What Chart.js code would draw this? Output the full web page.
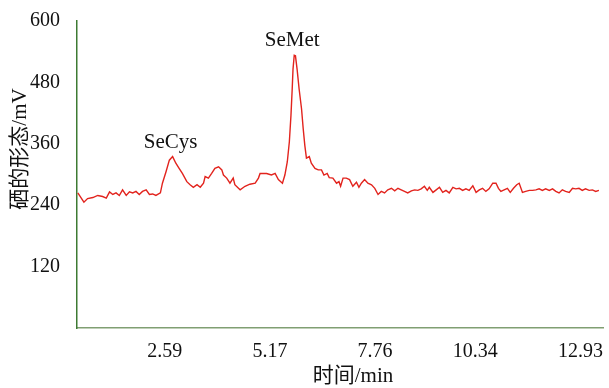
<!DOCTYPE html>
<html>
<head>
<meta charset="utf-8">
<title>SeCys / SeMet</title>
<script src="https://cdn.jsdelivr.net/npm/chart.js@4/dist/chart.umd.min.js"></script>
<style>
    body { margin: 0; background: #fff; }
    #chart { display: block; }
</style>
</head>
<body>
<canvas id="chart" width="609" height="388"></canvas>
<script>

// DATA

var times = [
    0.02, 0.17, 0.26, 0.39, 0.51, 0.63, 0.72, 0.80, 0.88, 0.96,
    1.04, 1.12, 1.21, 1.29, 1.37, 1.45, 1.53, 1.61, 1.70, 1.78,
    1.86, 1.94, 2.05, 2.10, 2.19, 2.27, 2.35, 2.43, 2.51, 2.59,
    2.70, 2.78, 2.86, 2.95, 3.03, 3.11, 3.15, 3.23, 3.31, 3.39,
    3.48, 3.56, 3.60, 3.68, 3.76, 3.84, 3.88, 3.97, 4.01, 4.13,
    4.25, 4.38, 4.46, 4.50, 4.66, 4.78, 4.87, 4.95, 5.05, 5.11,
    5.17, 5.22, 5.26, 5.29, 5.31, 5.34, 5.37, 5.41, 5.46, 5.52,
    5.56, 5.60, 5.64, 5.71, 5.76, 5.85, 5.93, 6.01, 6.07, 6.15,
    6.20, 6.29, 6.38, 6.44, 6.48, 6.54, 6.62, 6.70, 6.78, 6.87,
    6.93, 6.99, 7.07, 7.15, 7.24, 7.32, 7.40, 7.48, 7.56, 7.64,
    7.73, 7.81, 7.89, 7.97, 8.05, 8.13, 8.22, 8.30, 8.38, 8.46,
    8.54, 8.61, 8.66, 8.75, 8.83, 8.91, 8.99, 9.07, 9.15, 9.24,
    9.32, 9.40, 9.48, 9.56, 9.64, 9.73, 9.81, 9.89, 9.97, 10.05,
    10.13, 10.22, 10.30, 10.36, 10.42, 10.50, 10.58, 10.65, 10.73, 10.81,
    10.87, 10.95, 11.03, 11.12, 11.20, 11.28, 11.36, 11.44, 11.52, 11.61,
    11.69, 11.77, 11.85, 11.93, 12.01, 12.10, 12.18, 12.26, 12.34, 12.42,
    12.50, 12.59, 12.67, 12.75, 12.83
]

var signal = [
    264, 246, 253, 255, 259, 257, 254, 266, 261, 264,
    259, 270, 259, 266, 264, 267, 261, 267, 270, 261,
    262, 259, 264, 283, 306, 328, 335, 322, 312, 302,
    286, 280, 275, 280, 275, 283, 296, 293, 302, 312,
    315, 309, 299, 293, 283, 293, 280, 273, 270, 277,
    281, 283, 293, 302, 302, 299, 302, 290, 283, 299,
    325, 364, 416, 467, 506, 533, 532, 506, 467, 428,
    390, 357, 332, 335, 322, 312, 309, 309, 299, 302,
    294, 293, 283, 286, 277, 293, 293, 290, 277, 285,
    275, 283, 290, 283, 280, 273, 261, 267, 264, 270,
    273, 268, 273, 270, 267, 264, 268, 270, 269, 272,
    277, 269, 275, 265, 270, 275, 265, 269, 264, 275,
    272, 273, 269, 272, 269, 278, 265, 270, 273, 267,
    272, 283, 283, 273, 267, 270, 273, 265, 273, 280,
    283, 265, 267, 269, 269, 270, 272, 269, 272, 269,
    272, 267, 264, 270, 267, 265, 273, 272, 273, 269,
    272, 269, 270, 267, 269
]

var xTickValues = [2.586, 5.172, 7.758, 10.344, 12.93]
var xTickLabels = ["2.59", "5.17", "7.76", "10.34", "12.93"]
var yTickValues = [120, 240, 360, 480, 600]
var yTickLabels = ["120", "240", "360", "480", "600"]

var peakNames = ["SeCys", "SeMet"]
var peakTimes = [2.35, 5.34]
var peakValues = [335, 533]

var xTitle = "时间/min"
var yTitle = "硒的形态/mV"

// LABELS PLUGIN (peak names + axis titles)

var textLabels = {
    id: 'textLabels',
    afterDraw: function (chart) {
        var ctx = chart.ctx
        var xs = chart.scales.x
        var ys = chart.scales.y
        var area = chart.chartArea
        ctx.save()
        ctx.fillStyle = '#111'
        ctx.font = '21px "Liberation Serif", "Times New Roman", serif'
        ctx.textAlign = 'center'
        ctx.textBaseline = 'alphabetic'
        peakNames.forEach(function (name, i) {
            ctx.fillText(name, xs.getPixelForValue(peakTimes[i]) - 2, ys.getPixelForValue(peakValues[i]) - 9)
        })

        ctx.font = '21px "Liberation Serif", "Noto Sans CJK SC", serif'
        ctx.textBaseline = 'middle'
        ctx.fillText(xTitle, (area.left + area.right) / 2 + 13, 376)

        ctx.translate(20, 149)
        ctx.rotate(-Math.PI / 2)
        ctx.fillText(yTitle, 0, 0)
        ctx.restore()
    }
}

// CHART

var cnx = document.getElementById("chart")

var chart = new Chart(cnx, {
    type: 'line',
    data: {
        datasets: [{
            data: times.map(function (t, i) { return { x: t, y: signal[i] } }),
            borderColor: '#e2231d',
            borderWidth: 1.4,
            pointRadius: 0,
            tension: 0,
            fill: false
        }]
    },
    options: {
        responsive: false,
        animation: false,
        devicePixelRatio: 1,
        layout: {
            padding: { top: 18, right: 6, left: 0, bottom: 0 }
        },
        plugins: {
            legend: { display: false },
            tooltip: { enabled: false }
        },
        scales: {
            x: {
                type: 'linear',
                min: 0,
                max: 12.93,
                grid: { display: false },
                border: { display: true, color: '#809f72', width: 1.5 },
                afterBuildTicks: function (scale) {
                    scale.ticks = xTickValues.map(function (v) { return { value: v } })
                },
                afterFit: function (scale) { scale.height = 60 },
                ticks: {
                    align: 'end',
                    padding: 4,
                    color: '#111',
                    font: { family: '"Liberation Serif", "Times New Roman", serif', size: 20 },
                    callback: function (value, index) { return xTickLabels[index] }
                }
            },
            y: {
                min: 0,
                max: 600,
                grid: { display: false },
                border: { display: true, color: '#3e7a33', width: 1.5 },
                afterBuildTicks: function (scale) {
                    scale.ticks = yTickValues.map(function (v) { return { value: v } })
                },
                afterFit: function (scale) { scale.width = 77 },
                ticks: {
                    padding: 9,
                    color: '#111',
                    font: { family: '"Liberation Serif", "Times New Roman", serif', size: 20 },
                    callback: function (value, index) { return yTickLabels[index] }
                }
            }
        }
    },
    plugins: [textLabels]
})
</script>
</body>
</html>
